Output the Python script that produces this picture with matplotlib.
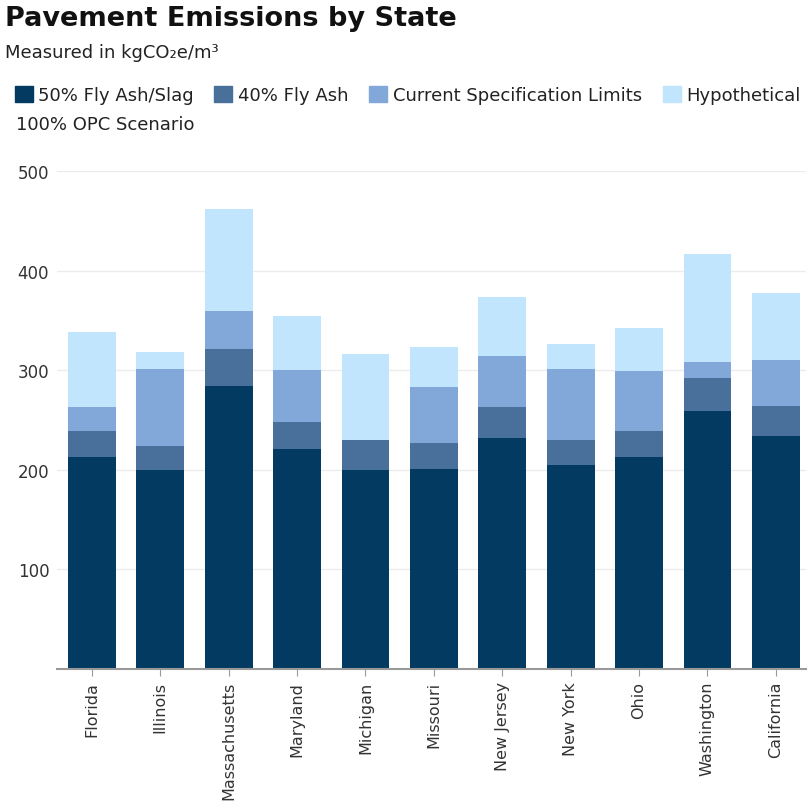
import matplotlib
matplotlib.use("Agg")
import matplotlib.pyplot as plt
from matplotlib.patches import Patch

# Each series is the total emission level for that scenario (bars overlap from 0)
states = ["Florida", "Illinois", "Massachusetts", "Maryland", "Michigan", "Missouri",
          "New Jersey", "New York", "Ohio", "Washington", "California"]
fly_ash_slag_50 = [213, 200, 284, 221, 200, 201, 232, 205, 213, 259, 234]
fly_ash_40 = [239, 224, 321, 248, 230, 227, 263, 230, 239, 292, 264]
spec_limits = [263, 301, 359, 300, 230, 283, 314, 301, 299, 308, 310]
hypothetical_opc = [338, 318, 462, 354, 316, 323, 374, 326, 342, 417, 378]

series = [
    ("Hypothetical", hypothetical_opc, "#c1e5fd"),
    ("Current Specification Limits", spec_limits, "#82a8d9"),
    ("40% Fly Ash", fly_ash_40, "#48709b"),
    ("50% Fly Ash/Slag", fly_ash_slag_50, "#023a62"),
]

fig = plt.figure(figsize=(8.1, 8.03), dpi=100)
ax = fig.add_axes([0.0704, 0.1656, 0.9246, 0.6202])

x = range(len(states))
for name, vals, col in series:
    ax.bar(x, vals, width=0.70, color=col, zorder=2)

ax.set_xlim(-0.51, 10.44)
ax.set_ylim(0, 500)
ax.set_yticks([100, 200, 300, 400, 500])
ax.grid(axis="y", color="#ececec", linewidth=1, zorder=0)
ax.set_axisbelow(True)
for s in ["top", "right", "left"]:
    ax.spines[s].set_visible(False)
ax.spines["bottom"].set_color("#999999")
ax.spines["bottom"].set_linewidth(1.5)
ax.tick_params(axis="y", length=0, labelsize=12, labelcolor="#333333")
ax.tick_params(axis="x", length=5, color="#999999", labelsize=11.5, labelcolor="#333333")
ax.set_xticks(list(x))
ax.set_xticklabels(states, rotation=90)
for lbl in ax.get_yticklabels():
    lbl.set_horizontalalignment("left")
    lbl.set_x(-0.046)

fig.text(0.006, 0.993, "Pavement Emissions by State", fontsize=19.5, fontweight="bold",
         color="#111111", va="top", ha="left")
fig.text(0.006, 0.945, "Measured in kgCO₂e/m³", fontsize=13, color="#222222",
         va="top", ha="left")

handles = [Patch(color=col, label=name) for name, _, col in reversed(series)]
leg = fig.legend(handles=handles, loc="upper left", bbox_to_anchor=(0.018, 0.892),
                 ncol=4, frameon=False, fontsize=13, handlelength=1.0, handleheight=1.0,
                 handletextpad=0.3, columnspacing=1.15, borderaxespad=0, borderpad=0)
for t in leg.get_texts():
    t.set_color("#222222")
fig.text(0.02, 0.855, "100% OPC Scenario", fontsize=13, color="#222222",
         va="top", ha="left")

fig.savefig("out.png", dpi=100)
